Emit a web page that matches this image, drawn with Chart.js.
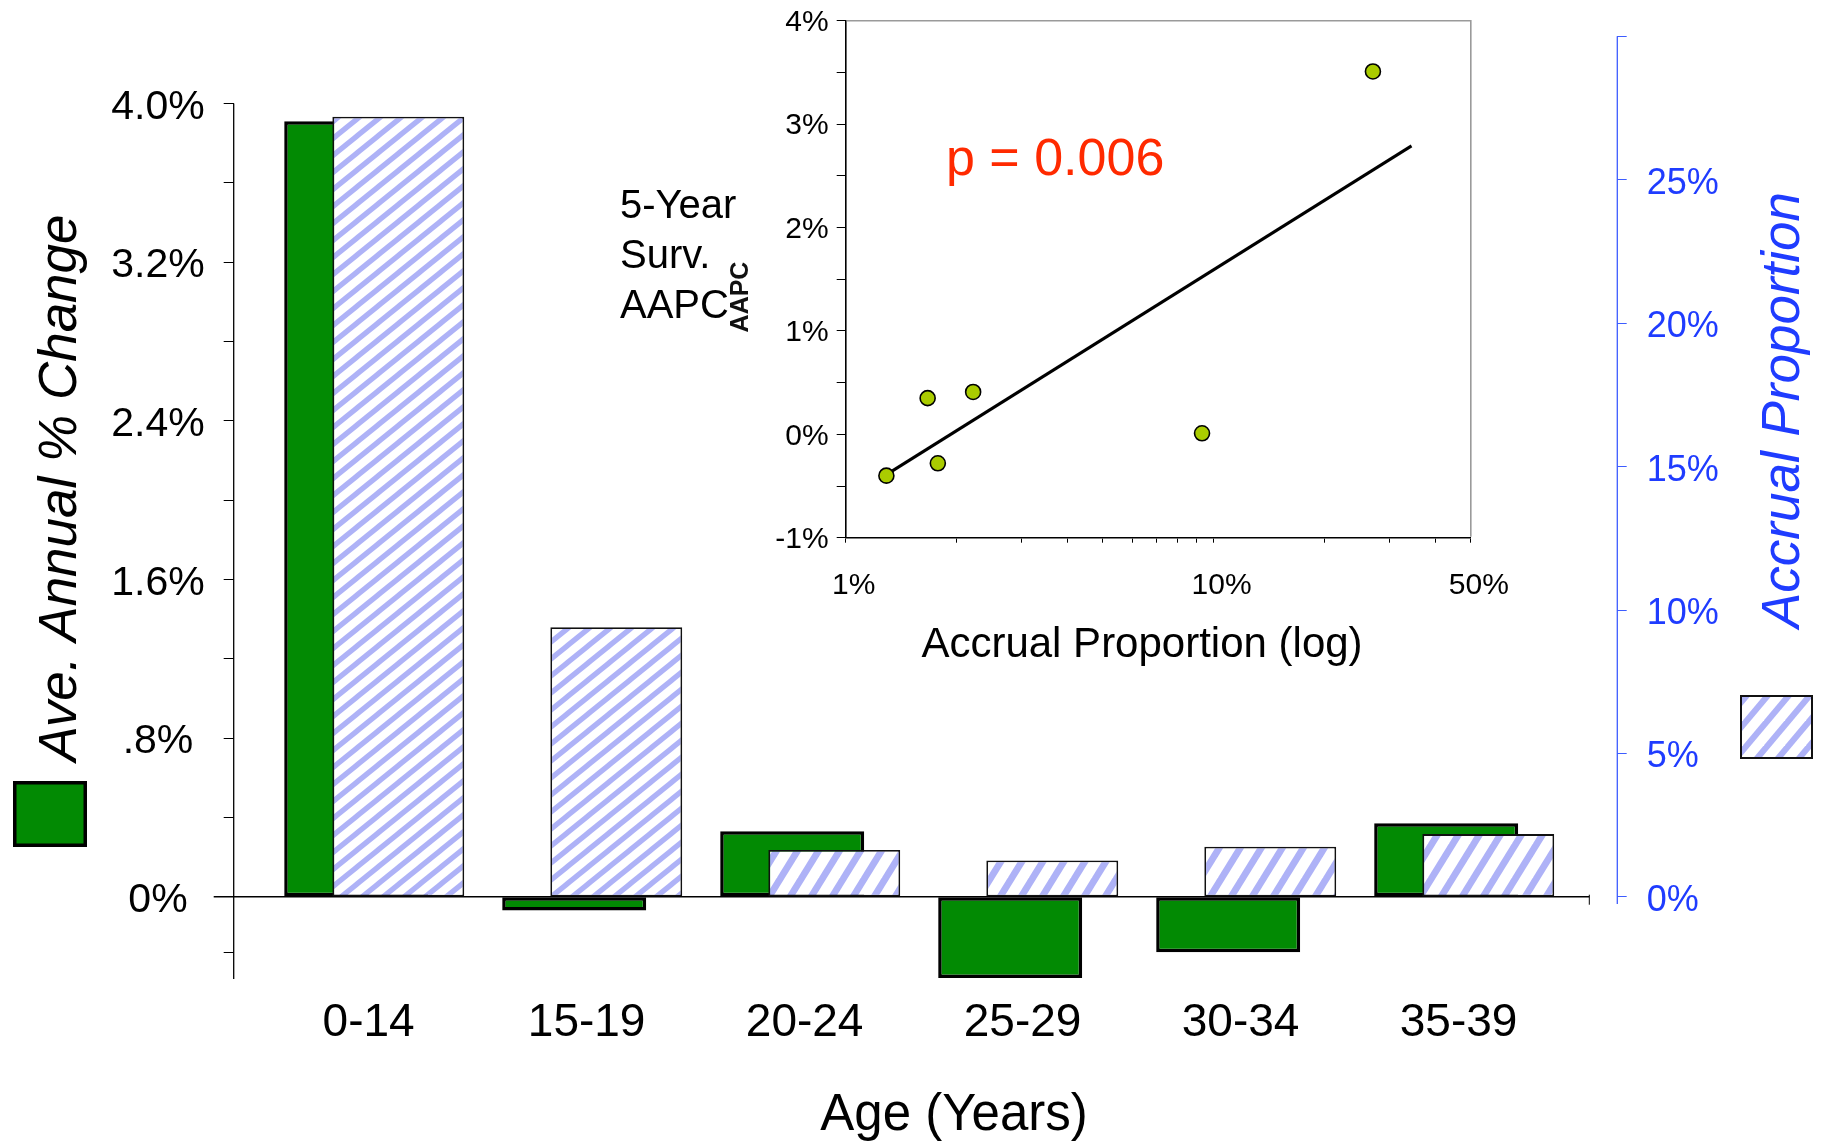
<!DOCTYPE html>
<html>
<head>
<meta charset="utf-8">
<script src="https://cdn.jsdelivr.net/npm/chart.js@4/dist/chart.umd.min.js"></script>
<style>
html, body { margin: 0; padding: 0; background: #ffffff; }
#wrap { position: relative; width: 1824px; height: 1142px; overflow: hidden; background: #ffffff; }
#main { position: absolute; left: 0; top: 0; width: 1824px; height: 1142px; }
#inset { position: absolute; left: 600px; top: 0; width: 960px; height: 680px; }
</style>
</head>
<body>
<div id="wrap">
  <canvas id="main" width="1824" height="1142"></canvas>
  <canvas id="inset" width="960" height="680"></canvas>
</div>
<script>
// ---------------- data ----------------
const categories = ['0-14', '15-19', '20-24', '25-29', '30-34', '35-39'];
const aapcChange = [3.91, -0.07, 0.33, -0.41, -0.28, 0.37];          // left axis (%)
const accrualProportion = [27.2, 9.4, 1.64, 1.27, 1.75, 2.19];      // right axis (%)

const leftTickValues = [0, 0.8, 1.6, 2.4, 3.2, 4.0];
const leftTickLabels = ['0%', '.8%', '1.6%', '2.4%', '3.2%', '4.0%'];
const leftMinorTicks = [-0.28, 0.4, 1.2, 2.0, 2.8, 3.6];
const rightTickValues = [0, 5, 10, 15, 20, 25, 30];
const rightTickLabels = ['0%', '5%', '10%', '15%', '20%', '25%', ''];

// inset scatter: accrual proportion (log x) vs 5-year survival AAPC
const insetAccrual = [27.1, 9.3, 1.67, 1.29, 1.78, 2.22];
const insetAapc = [3.51, 0.01, 0.35, -0.40, -0.28, 0.41];
const trendAccrual = [1.29, 34.5];
const trendAapc = [-0.39, 2.79];
const insetYTickValues = [-1, 0, 1, 2, 3, 4];
const insetYTickLabels = ['-1%', '0%', '1%', '2%', '3%', '4%'];
const insetXTickValues = [1, 10, 50];
const insetXTickLabels = ['1%', '10%', '50%'];

// ---------------- styles ----------------
const FONT = "'Liberation Sans', Arial, Helvetica, sans-serif";
const GREEN = '#028a03';
const BLUE = '#1f3cff';
const STRIPE = '#aeb2f7';
Chart.defaults.font.family = FONT;
Chart.defaults.color = '#000';

function makeHatch(W, H, hw) {
  const c = document.createElement('canvas');
  c.width = W; c.height = H;
  const g = c.getContext('2d');
  g.fillStyle = '#ffffff';
  g.fillRect(0, 0, W, H);
  g.fillStyle = STRIPE;
  for (let n = 0; n <= 2; n++) {
    g.beginPath();
    g.moveTo(n * W - hw, 0);
    g.lineTo(n * W + hw, 0);
    g.lineTo((n - 1) * W + hw, H);
    g.lineTo((n - 1) * W - hw, H);
    g.closePath();
    g.fill();
  }
  return g.createPattern(c, 'repeat');
}
const hatchShallow = makeHatch(21, 17, 4.2);
const hatchSteep = makeHatch(21, 34, 4);
const hatchLegend = makeHatch(21, 25, 4);

function labelFor(values, labels, v) {
  const i = values.findIndex(t => Math.abs(t - v) < 1e-9);
  return i >= 0 ? labels[i] : '';
}

function drawRotated(ctx, text, x, y, font, color) {
  ctx.save();
  ctx.translate(x, y);
  ctx.rotate(-Math.PI / 2);
  ctx.font = font;
  ctx.fillStyle = color;
  ctx.textAlign = 'center';
  ctx.textBaseline = 'alphabetic';
  ctx.fillText(text, 0, 0);
  ctx.restore();
}

const indexTicks = (s) => { s.ticks = categories.map((c, i) => ({ value: i })); };
const noPadV = (w) => (s) => { s.width = w; s.paddingTop = 0; s.paddingBottom = 0; };

// ---------------- main chart ----------------
const mainDecor = {
  id: 'mainDecor',
  beforeDatasetsDraw(chart) {
    const { ctx, chartArea: a, scales } = chart;
    const y0 = scales.y.getPixelForValue(0);
    ctx.save();
    ctx.strokeStyle = '#000';
    ctx.lineWidth = 1.3;
    ctx.beginPath();
    ctx.moveTo(a.left, scales.y.getPixelForValue(leftTickValues[leftTickValues.length - 1]));
    ctx.lineTo(a.left, a.bottom);
    ctx.stroke();
    ctx.lineWidth = 1.6;
    ctx.beginPath();
    ctx.moveTo(a.left - 20, y0);
    ctx.lineTo(a.right - 28, y0);
    ctx.stroke();
    ctx.lineWidth = 1;
    ctx.beginPath();
    ctx.moveTo(a.right - 28, y0 - 2);
    ctx.lineTo(a.right - 28, y0 + 8);
    ctx.stroke();
    ctx.strokeStyle = '#3d5cff';
    ctx.lineWidth = 1.3;
    ctx.beginPath();
    ctx.moveTo(a.right, scales.y1.getPixelForValue(rightTickValues[rightTickValues.length - 1]));
    ctx.lineTo(a.right, scales.y1.getPixelForValue(0) + 7);
    ctx.stroke();
    ctx.restore();
  },
  afterDraw(chart) {
    const { ctx } = chart;
    drawRotated(ctx, 'Ave. Annual % Change', 76, 488, 'italic 53px ' + FONT, '#000');
    drawRotated(ctx, 'Accrual Proportion', 1799, 410, 'italic 53px ' + FONT, BLUE);
    ctx.save();
    ctx.font = '51px ' + FONT;
    ctx.fillStyle = '#000';
    ctx.textAlign = 'center';
    ctx.textBaseline = 'alphabetic';
    ctx.fillText('Age (Years)', 954, 1130);
    // legend keys
    ctx.fillStyle = GREEN;
    ctx.fillRect(13, 781, 74, 66);
    ctx.strokeStyle = '#000';
    ctx.lineWidth = 3.5;
    ctx.strokeRect(14.75, 782.75, 70.5, 62.5);
    ctx.fillStyle = hatchLegend;
    ctx.fillRect(1740, 695, 73, 64);
    ctx.lineWidth = 2;
    ctx.strokeStyle = '#111';
    ctx.strokeRect(1741, 696, 71, 62);
    ctx.restore();
  }
};

new Chart(document.getElementById('main'), {
  type: 'bar',
  data: {
    datasets: [
      {
        label: 'Accrual Proportion',
        data: categories.map((c, i) => ({ x: i, y: accrualProportion[i] })),
        xAxisID: 'xh',
        yAxisID: 'y1',
        backgroundColor: (ctx) => (ctx.dataIndex < 2 ? hatchShallow : hatchSteep),
        borderColor: '#111',
        borderWidth: 1.8,
        borderSkipped: false,
        grouped: false,
        categoryPercentage: 1,
        barPercentage: 0.605,
        order: 1
      },
      {
        label: 'Ave. Annual % Change',
        data: categories.map((c, i) => ({ x: i, y: aapcChange[i] })),
        xAxisID: 'xg',
        yAxisID: 'y',
        backgroundColor: GREEN,
        borderColor: '#000',
        borderWidth: 3.5,
        borderSkipped: false,
        grouped: false,
        categoryPercentage: 1,
        barPercentage: 0.6606,
        order: 2
      }
    ]
  },
  options: {
    responsive: false,
    animation: false,
    events: [],
    layout: { padding: { top: 36.3, left: 0, right: 0, bottom: 0 } },
    plugins: { legend: { display: false }, tooltip: { enabled: false } },
    scales: {
      x: {
        type: 'linear', position: 'bottom', min: -0.619, max: 5.728, offset: false,
        afterBuildTicks: indexTicks,
        ticks: {
          callback: (v) => categories[v] ?? '',
          font: { size: 46 }, color: '#000', padding: 17, autoSkip: false, maxRotation: 0, minRotation: 0
        },
        grid: { display: false, drawTicks: false, offset: false },
        border: { display: false },
        afterFit: (s) => { s.height = 163; s.paddingLeft = 0; s.paddingRight = 0; }
      },
      xg: { type: 'linear', display: false, min: -0.562, max: 5.785, offset: false, grid: { offset: false }, afterBuildTicks: indexTicks },
      xh: { type: 'linear', display: false, min: -0.755, max: 5.592, offset: false, grid: { offset: false }, afterBuildTicks: indexTicks },
      y: {
        type: 'linear', position: 'left', min: -0.415, max: 4.339,
        afterBuildTicks: (s) => {
          s.ticks = leftTickValues.concat(leftMinorTicks).sort((a, b) => a - b).map(v => ({ value: v }));
        },
        ticks: {
          callback: (v) => labelFor(leftTickValues, leftTickLabels, v),
          font: { size: 41 }, color: '#000', padding: 19, crossAlign: 'center', autoSkip: false, labelOffset: 4
        },
        grid: { drawOnChartArea: false, drawTicks: true, tickLength: 10, color: '#000', lineWidth: 1 },
        border: { display: false },
        afterFit: noPadV(233.7)
      },
      y1: {
        type: 'linear', position: 'right', min: -2.86, max: 30,
        afterBuildTicks: (s) => { s.ticks = rightTickValues.map(v => ({ value: v })); },
        ticks: {
          callback: (v) => labelFor(rightTickValues, rightTickLabels, v),
          font: { size: 36 }, color: BLUE, padding: 20, autoSkip: false, labelOffset: 4
        },
        grid: { drawOnChartArea: false, drawTicks: true, tickLength: 9.4, color: '#3d5cff', lineWidth: 1 },
        border: { display: false },
        afterFit: noPadV(206.7)
      }
    }
  },
  plugins: [mainDecor]
});

// ---------------- inset chart ----------------
const insetDecor = {
  id: 'insetDecor',
  afterDraw(chart) {
    const { ctx, chartArea: a } = chart;
    ctx.save();
    ctx.strokeStyle = '#9a9a9a';
    ctx.lineWidth = 1.6;
    ctx.beginPath();
    ctx.moveTo(a.left + 1, a.top);
    ctx.lineTo(a.right, a.top);
    ctx.lineTo(a.right, a.bottom - 1);
    ctx.stroke();
    ctx.fillStyle = '#000';
    ctx.font = '40px ' + FONT;
    ctx.textAlign = 'left';
    ctx.textBaseline = 'alphabetic';
    ctx.fillText('5-Year', 20, 218);
    ctx.fillText('Surv.', 20, 268);
    ctx.fillText('AAPC', 20, 318);
    ctx.fillStyle = '#ff2a00';
    ctx.font = '52px ' + FONT;
    ctx.fillText('p = 0.006', 346, 175);
    ctx.fillStyle = '#000';
    ctx.font = '42px ' + FONT;
    ctx.textAlign = 'center';
    ctx.fillText('Accrual Proportion (log)', 542, 657);
    ctx.restore();
    drawRotated(ctx, 'AAPC', 148, 297, 'bold 25px ' + FONT, '#111');
  }
};

new Chart(document.getElementById('inset'), {
  type: 'scatter',
  data: {
    datasets: [
      {
        label: 'AAPC',
        data: insetAccrual.map((x, i) => ({ x: x, y: insetAapc[i] })),
        backgroundColor: '#aacc00',
        borderColor: '#000',
        borderWidth: 1.6,
        pointRadius: 7.5,
        order: 1
      },
      {
        type: 'line',
        label: 'fit',
        data: trendAccrual.map((x, i) => ({ x: x, y: trendAapc[i] })),
        borderColor: '#000',
        borderWidth: 3,
        pointRadius: 0,
        showLine: true,
        fill: false,
        order: 2
      }
    ]
  },
  options: {
    responsive: false,
    animation: false,
    events: [],
    layout: { padding: { top: 20.8, right: 89.2, left: 0, bottom: 0 } },
    plugins: { legend: { display: false }, tooltip: { enabled: false } },
    scales: {
      x: {
        type: 'logarithmic', position: 'bottom', min: 1, max: 50,
        afterBuildTicks: (s) => {
          const t = [];
          for (let d = 1; d <= 10; d *= 10) {
            for (let m = 1; m <= 9; m++) { if (m * d <= 50) t.push({ value: m * d }); }
          }
          s.ticks = t;
        },
        ticks: {
          callback: (v) => labelFor(insetXTickValues, insetXTickLabels, v),
          font: { size: 30 }, color: '#000', labelOffset: 8, padding: 25, autoSkip: false, maxRotation: 0, minRotation: 0
        },
        grid: { drawOnChartArea: false, drawTicks: true, tickLength: 5, color: '#000' },
        border: { display: true, color: '#000', width: 1.6 },
        afterFit: (s) => { s.height = 142.3; s.paddingLeft = 0; s.paddingRight = 0; }
      },
      y: {
        type: 'linear', position: 'left', min: -1, max: 4,
        ticks: {
          stepSize: 0.5,
          callback: (v) => labelFor(insetYTickValues, insetYTickLabels, v),
          font: { size: 30 }, color: '#000', padding: 8, autoSkip: false, labelOffset: 2
        },
        grid: { drawOnChartArea: false, drawTicks: true, tickLength: 9, color: '#000' },
        border: { display: true, color: '#000', width: 1.6 },
        afterFit: (s) => { s.width = 245.7; s.paddingTop = 0; s.paddingBottom = 0; }
      }
    }
  },
  plugins: [insetDecor]
});
</script>
</body>
</html>
